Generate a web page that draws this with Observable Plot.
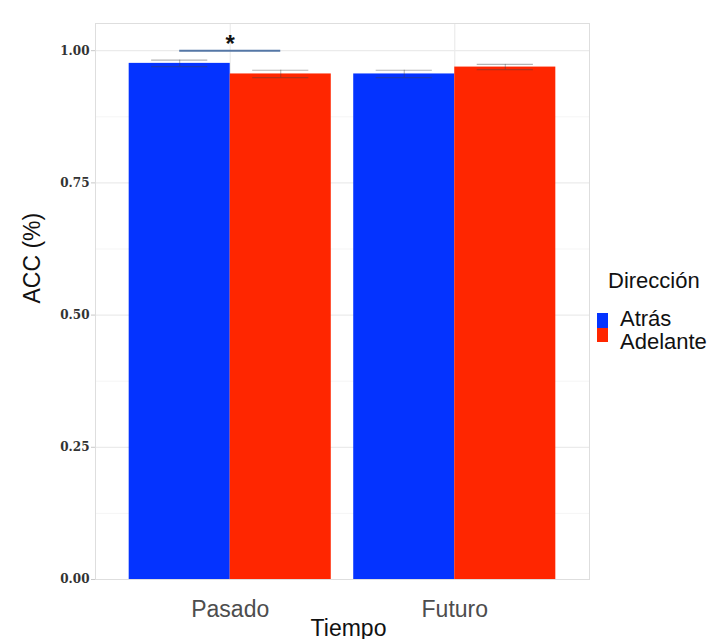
<!DOCTYPE html>
<html>
<head>
<meta charset="utf-8">
<script src="https://cdn.jsdelivr.net/npm/d3@7"></script>
<script src="https://cdn.jsdelivr.net/npm/@observablehq/plot@0.6"></script>
<style>
  html, body { margin: 0; padding: 0; background: #fff; }
  #chart { position: relative; width: 725px; height: 639px; overflow: hidden; }
</style>
</head>
<body>
<div id="chart"></div>
<script>
// ---- data ----
const tiempo = ["Pasado", "Futuro"];
const direccion = ["Atrás", "Adelante"];
const accAtras = [0.976, 0.956];
const accAdelante = [0.956, 0.969];
const seAtras = [0.006, 0.007];
const seAdelante = [0.007, 0.005];
const yTicks = [0, 0.25, 0.5, 0.75, 1.0];
const yMinor = [0.125, 0.375, 0.625, 0.875];
const signifLabel = "*";
const signifGroup = "Pasado";
const signifY = 1.0;
const colors = ["#0433FF", "#FF2600"];

// ---- build table ----
const barWidth = 0.9; // dodge total width per group (ggplot default)
const rows = [];
tiempo.forEach((t, i) => {
  const vals = [accAtras[i], accAdelante[i]];
  const ses = [seAtras[i], seAdelante[i]];
  direccion.forEach((d, j) => {
    const pos = i + 1;
    const half = barWidth / 2;
    rows.push({
      tiempo: t, dir: d, acc: vals[j], se: ses[j],
      x1: pos - half + j * half,
      x2: pos + j * half,
      center: pos - half / 2 + j * half
    });
  });
});
const gi = tiempo.indexOf(signifGroup) + 1;
const bracket = [{x1: gi - barWidth / 4, x2: gi + barWidth / 4, mid: gi, y: signifY, label: signifLabel}];
const ebHalf = 0.125;

const plot = Plot.plot({
  width: 725,
  height: 639,
  marginLeft: 95,
  marginRight: 136,
  marginTop: 23,
  marginBottom: 60,
  style: {fontFamily: "Liberation Sans, Arial, sans-serif", background: "#fff"},
  x: {type: "linear", domain: [0.4, 2.6]},
  y: {domain: [0, 1.0514]},
  color: {domain: direccion, range: colors},
  marks: [
    Plot.ruleY(yMinor, {stroke: "#f5f5f5", strokeWidth: 1}),
    Plot.ruleY(yTicks, {stroke: "#ebebeb", strokeWidth: 1.2}),
    Plot.ruleX([1, 2], {stroke: "#ebebeb", strokeWidth: 1.2}),
    Plot.rectY(rows, {x1: "x1", x2: "x2", y: "acc", fill: "dir", inset: 0}),
    Plot.ruleX(rows, {x: "center", y1: d => d.acc - d.se, y2: d => d.acc + d.se, stroke: "#444", strokeOpacity: 0.4}),
    Plot.ruleY(rows, {y: d => d.acc + d.se, x1: d => d.center - ebHalf, x2: d => d.center + ebHalf, stroke: "#444", strokeOpacity: 0.4, strokeWidth: 1.2}),
    Plot.ruleY(rows, {y: d => d.acc - d.se, x1: d => d.center - ebHalf, x2: d => d.center + ebHalf, stroke: "#444", strokeOpacity: 0.4, strokeWidth: 1.2}),
    Plot.ruleY(bracket, {y: "y", x1: "x1", x2: "x2", stroke: "#5577a6", strokeWidth: 2}),
    Plot.text(bracket, {x: "mid", y: "y", text: "label", fontSize: 24, lineAnchor: "bottom", dy: 1, fill: "#111", fontWeight: "bold"}),
    Plot.frame({stroke: "#dedede"}),
    Plot.axisY({ticks: yTicks, tickFormat: d3.format(".2f"), tickSize: 4, tickPadding: 2, stroke: "#c8c8c8",
      fill: "#333", fontFamily: "DejaVu Serif", fontWeight: "bold", fontSize: 12, label: null}),
    Plot.axisX({ticks: [1, 2], tickFormat: d => tiempo[d - 1], tickSize: 0, tickPadding: 21,
      fill: "#4d4d4d", fontSize: 23, label: null}),
    Plot.text(["Tiempo"], {frameAnchor: "bottom", lineAnchor: "bottom", dy: 56, dx: 6, fontSize: 23, fill: "#111"}),
    Plot.text(["ACC (%)"], {frameAnchor: "left", rotate: -90, lineAnchor: "bottom", dx: -56, dy: 2, fontSize: 23, fill: "#111"})
  ]
});

// ---- legend (layout only) ----
const svg = d3.select(plot);
const color = plot.scale("color");
const lg = svg.append("g")
  .attr("font-family", "Liberation Sans, Arial, sans-serif")
  .attr("font-size", 22)
  .attr("fill", "#111")
  .attr("text-anchor", "start");
lg.append("text").attr("x", 608).attr("y", 288).text("Dirección");
const keyY = [313, 328];
const keyH = [15, 14];
const labY = [326, 349];
color.domain.forEach((d, k) => {
  lg.append("rect").attr("x", 597).attr("y", keyY[k]).attr("width", 11).attr("height", keyH[k]).attr("fill", color.apply(d));
  lg.append("text").attr("x", 620).attr("y", labY[k]).text(d);
});

document.getElementById("chart").appendChild(plot);
</script>
</body>
</html>
